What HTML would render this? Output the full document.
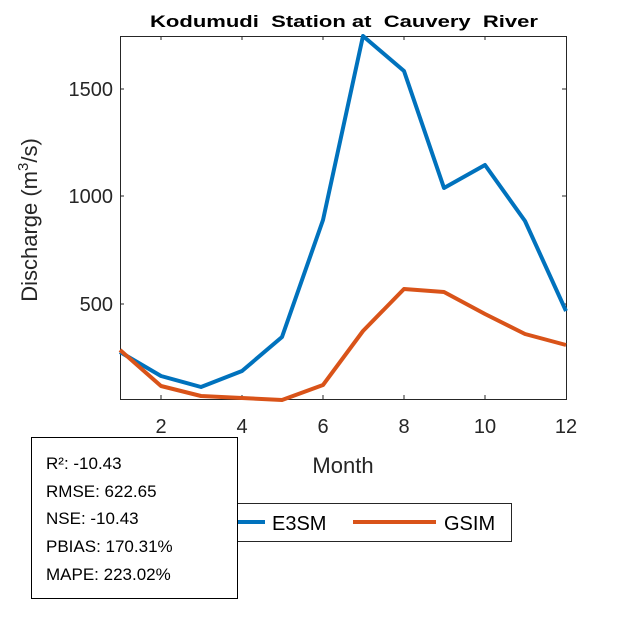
<!DOCTYPE html>
<html><head><meta charset="utf-8"><style>
body{margin:0;background:#fff;}
svg{display:block;font-family:"Liberation Sans",Arial,sans-serif;}
</style></head><body>
<svg width="625" height="625" xmlns="http://www.w3.org/2000/svg">
<rect width="625" height="625" fill="#fff"/>
<text x="150" y="27" font-size="17" font-weight="bold" fill="#000" textLength="388" lengthAdjust="spacingAndGlyphs">Kodumudi&#160; Station at&#160; Cauvery&#160; River</text>
<rect x="120.5" y="36.5" width="446" height="363" fill="none" stroke="#262626" stroke-width="1"/>
<g stroke="#262626" stroke-width="1">
<line x1="161" y1="399" x2="161" y2="395"/><line x1="242" y1="399" x2="242" y2="395"/><line x1="323" y1="399" x2="323" y2="395"/><line x1="404" y1="399" x2="404" y2="395"/><line x1="485" y1="399" x2="485" y2="395"/>
<line x1="161" y1="36" x2="161" y2="40"/><line x1="242" y1="36" x2="242" y2="40"/><line x1="323" y1="36" x2="323" y2="40"/><line x1="404" y1="36" x2="404" y2="40"/><line x1="485" y1="36" x2="485" y2="40"/>
<line x1="120" y1="89" x2="124" y2="89"/><line x1="120" y1="196" x2="124" y2="196"/><line x1="120" y1="304" x2="124" y2="304"/>
<line x1="566" y1="89" x2="562" y2="89"/><line x1="566" y1="196" x2="562" y2="196"/><line x1="566" y1="304" x2="562" y2="304"/>
</g>
<g font-size="20" fill="#262626" text-anchor="middle">
<text x="161" y="433">2</text><text x="242" y="433">4</text><text x="323" y="433">6</text><text x="404" y="433">8</text><text x="485" y="433">10</text><text x="566" y="433">12</text>
</g>
<g font-size="20" fill="#262626" text-anchor="end">
<text x="113" y="96">1500</text><text x="113" y="203">1000</text><text x="113" y="311">500</text>
</g>
<text x="343" y="473" font-size="22" fill="#262626" text-anchor="middle">Month</text>
<text transform="translate(37,220) rotate(-90)" font-size="22" fill="#262626" text-anchor="middle">Discharge (m<tspan font-size="15" dy="-9">3</tspan><tspan dy="9">/s)</tspan></text>
<polyline fill="none" stroke="#0072BD" stroke-width="4" stroke-linejoin="round" points="120,352 161,376 201,387 242,371 282,337 323,220 363,36 404,71 444,188 485,165 525,221 566,311"/>
<polyline fill="none" stroke="#D95319" stroke-width="4" stroke-linejoin="round" points="120,350 161,386 201,396 242,398 282,400 323,385 363,331 404,289 444,292 485,314 525,334 566,345"/>
<rect x="170.5" y="503.5" width="341" height="38" fill="#fff" stroke="#262626"/>
<line x1="185" y1="522" x2="265" y2="522" stroke="#0072BD" stroke-width="4"/>
<text x="272" y="530" font-size="20" fill="#000">E3SM</text>
<line x1="353" y1="522" x2="436" y2="522" stroke="#D95319" stroke-width="4"/>
<text x="444" y="530" font-size="20" fill="#000">GSIM</text>
<rect x="31.5" y="437.5" width="206" height="161" fill="#fff" stroke="#000"/>
<g font-size="17" fill="#000">
<text x="46" y="469">R²: -10.43</text>
<text x="46" y="497">RMSE: 622.65</text>
<text x="46" y="524">NSE: -10.43</text>
<text x="46" y="552">PBIAS: 170.31%</text>
<text x="46" y="580">MAPE: 223.02%</text>
</g>
</svg>
</body></html>
